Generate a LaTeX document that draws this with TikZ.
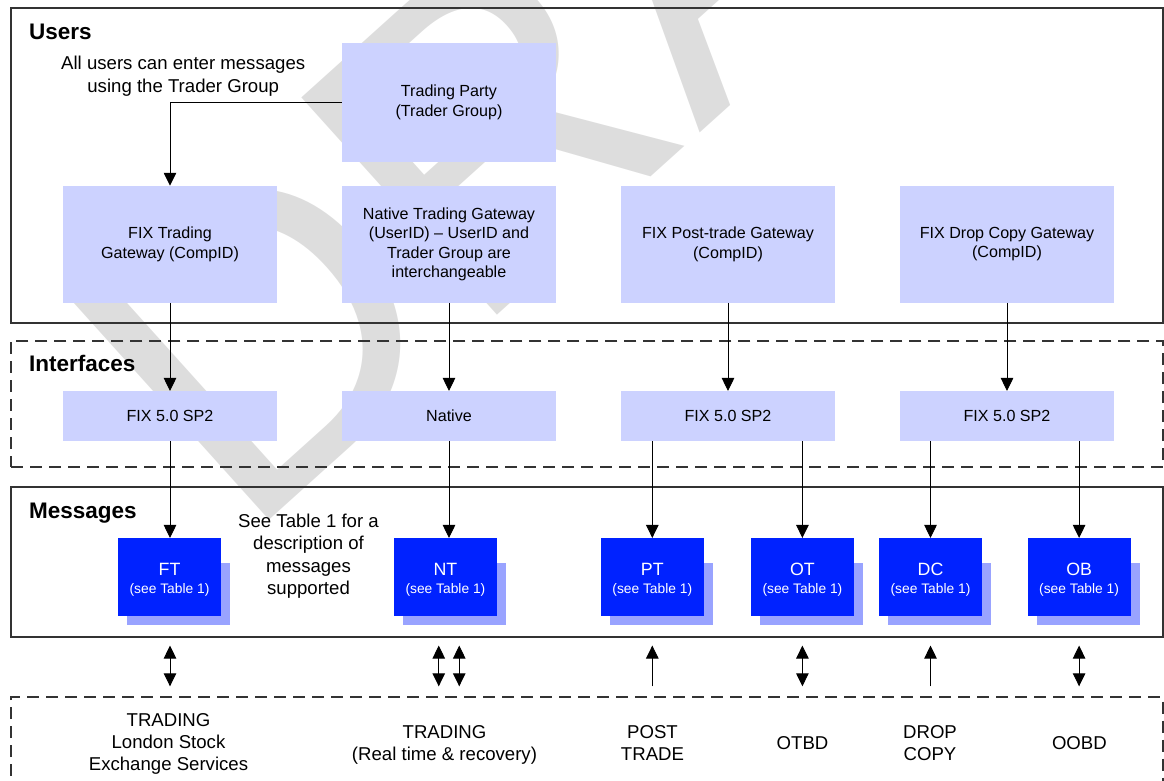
\documentclass[tikz,border=0pt]{standalone}
\usepackage{fontspec}
\setmainfont{Liberation Sans}
\usetikzlibrary{arrows.meta,calc}
\definecolor{lb}{RGB}{204,210,255}
\definecolor{mb}{RGB}{0,34,255}
\definecolor{shc}{RGB}{153,163,255}
\definecolor{fr}{RGB}{51,51,51}
\definecolor{wmc}{RGB}{221,221,221}
\newcommand\fsz[2]{\fontsize{#1}{#2}\selectfont}
\begin{document}
\begin{tikzpicture}[x=1pt,y=-1pt,
  frame/.style={draw=fr,line width=1.7pt,inner sep=0pt,minimum width=1152pt},
  dframe/.style={draw=fr,line width=1.7pt,dash pattern=on 12pt off 7pt},
  lbox/.style={fill=lb,inner sep=0pt,minimum width=214pt,align=center,font=\fsz{16.1}{19.4}},
  gw/.style={lbox,minimum height=116.7pt},
  ifc/.style={lbox,minimum height=49.7pt},
  mbox/.style={fill=mb,inner sep=0pt,minimum width=103pt,minimum height=77.7pt},
  mlab/.style={text=white,anchor=base,inner sep=0pt},
  title/.style={anchor=base west,font=\bfseries\fsz{22.5}{27},inner sep=0pt},
  note/.style={align=center,font=\fsz{18.6}{22.3},inner sep=0pt},
  arr/.style={draw=black,line width=0.9pt,-{Triangle[width=12.5pt,length=13pt]}},
  dblarr/.style={draw=black,line width=0.9pt,{Triangle[width=12.5pt,length=13pt]}-{Triangle[width=12.5pt,length=13pt]}},
  watermark/.style={text=wmc,rotate=42,anchor=base west,inner sep=0pt,font=\fsz{425}{425}},
]
\useasboundingbox (0,0) rectangle (1164,780);
\begin{scope}
\clip (0,0) rectangle (1164,780);
\node[watermark] (wmk) at (243.7,543.9) {DRAFT};
\end{scope}

% frames
\node[frame,minimum height=315.6pt] (users) at (587,165.5) {};
\node[frame,dframe,minimum height=126.3pt] (ifaces) at (587,403.85) {};
\node[frame,minimum height=149.4pt] (msgs) at (587,562) {};
\draw[dframe] (11,795) -- (11,697.3) -- (1163,697.3) -- (1163,795);
\coordinate (bot) at (587,697.3);

% titles
\node[title] (tusers) at (29,39.3) {Users};
\node[title] (tifaces) at (29,371.7) {Interfaces};
\node[title] (tmsgs) at (29,518.3) {Messages};

% notes
\node[note] (n1) at (183.2,76.3) {All users can enter messages\\using the Trader Group};
\node[note] (n2) at (308.5,556.2) {See Table 1 for a\\description of\\messages\\supported};

% users
\node[lbox,minimum height=119pt] (tp) at (449,102.5) {Trading Party\\(Trader Group)};
\node[gw] (fixgw) at (170,244.3) {FIX Trading\\Gateway (CompID)};
\node[gw] (natgw) at (449,244.3) {Native Trading Gateway\\(UserID) -- UserID and\\Trader Group are\\interchangeable};
\node[gw] (postgw) at (728,244.3) {FIX Post-trade Gateway\\(CompID)};
\node[gw] (dropgw) at (1007,244.3) {FIX Drop Copy Gateway\\(CompID)};

% interfaces
\node[ifc] (fixif) at (170,416) {FIX 5.0 SP2};
\node[ifc] (natif) at (449,416) {Native};
\node[ifc] (postif) at (728,416) {FIX 5.0 SP2};
\node[ifc] (dropif) at (1007,416) {FIX 5.0 SP2};

% message boxes with shadows
\newcommand\msgbox[3]{%
  \fill[shc] (#2-51.5+9,563) rectangle (#2+51.5+9,624.5);
  \node[mbox] (#1) at (#2,577) {};
  \node[mlab,font=\fsz{17.8}{20}] (#1a) at (#2,575) {#3};
  \node[mlab,font=\fsz{13.8}{16}] (#1b) at (#2,593.3) {(see Table 1)};
}
\msgbox{ft}{169.5}{FT}
\msgbox{nt}{445.4}{NT}
\msgbox{pt}{652.3}{PT}
\msgbox{ot}{802.4}{OT}
\msgbox{dc}{930.5}{DC}
\msgbox{ob}{1079.1}{OB}

% connectors users -> interfaces
\draw[arr] (tp.west) -| (fixgw.north);
\draw[arr] (fixgw.south) -- (fixif.north);
\draw[arr] (natgw.south) -- (natif.north);
\draw[arr] (postgw.south) -- (postif.north);
\draw[arr] (dropgw.south) -- (dropif.north);

% interfaces -> messages
\draw[arr] (fixif.south) -- (fixif.south |- ft.north);
\draw[arr] (natif.south) -- (natif.south |- nt.north);
\draw[arr] (postif.south -| pt.north) -- (pt.north);
\draw[arr] (postif.south -| ot.north) -- (ot.north);
\draw[arr] (dropif.south -| dc.north) -- (dc.north);
\draw[arr] (dropif.south -| ob.north) -- (ob.north);

% bottom labels
\node[note] (lt1) at (168.5,743.8) {TRADING\\London Stock\\Exchange Services};
\node[note] (lt2) at (444.5,744.9) {TRADING\\(Real time \& recovery)};
\node[note] (lpt) at (652.5,743) {POST\\TRADE};
\node[note] (lot) at (802.5,742.9) {OTBD};
\node[note] (ldc) at (930,743) {DROP\\COPY};
\node[note] (lob) at (1079.4,742.9) {OOBD};

% messages <-> services
\draw[dblarr] ($(msgs.south -| fixif)+(0,8)$) -- ($(bot -| fixif)+(0,-11)$);
\draw[dblarr] ($(msgs.south -| natif)+(-10.25,8)$) -- ($(bot -| natif)+(-10.25,-11)$);
\draw[dblarr] ($(msgs.south -| natif)+(10.25,8)$) -- ($(bot -| natif)+(10.25,-11)$);
\draw[arr] ($(bot -| pt)+(0,-11)$) -- ($(msgs.south -| pt)+(0,8)$);
\draw[dblarr] ($(msgs.south -| ot)+(0,8)$) -- ($(bot -| ot)+(0,-11)$);
\draw[arr] ($(bot -| dc)+(0,-11)$) -- ($(msgs.south -| dc)+(0,8)$);
\draw[dblarr] ($(msgs.south -| ob)+(0,8)$) -- ($(bot -| ob)+(0,-11)$);
\end{tikzpicture}
\end{document}
